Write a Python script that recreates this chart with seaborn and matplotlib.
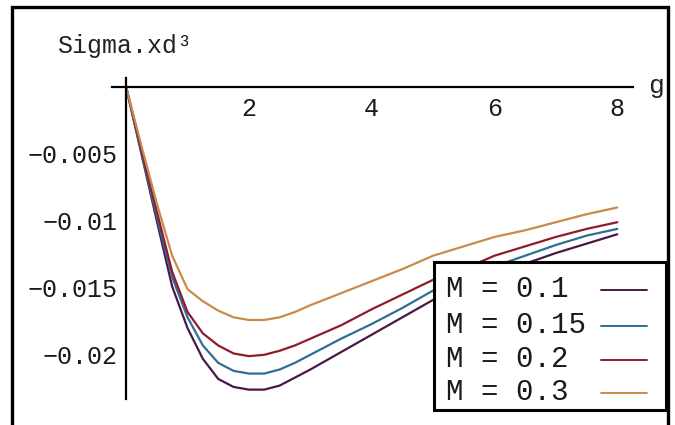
import numpy as np
import pandas as pd
import matplotlib
matplotlib.use("Agg")
import matplotlib.pyplot as plt
from matplotlib.patches import Rectangle
from matplotlib.lines import Line2D
from matplotlib.ticker import MultipleLocator, FixedLocator
import seaborn as sns

# Sampled curve values: Sigma.xd^3 against g for four values of M
g = [0, 0.25, 0.5, 0.75, 1, 1.25, 1.5, 1.75, 2, 2.25, 2.5, 2.75, 3,
     3.5, 4, 4.5, 5, 5.5, 6, 6.5, 7, 7.5, 8]
sigma_m010 = [0, -0.0050, -0.0100, -0.0149, -0.0180, -0.0203, -0.0218, -0.0224, -0.0226,
              -0.0226, -0.0223, -0.0217, -0.0211, -0.0198, -0.0185, -0.0172, -0.0159,
              -0.0150, -0.0141, -0.0132, -0.0124, -0.0117, -0.0110]
sigma_m015 = [0, -0.0049, -0.0097, -0.0142, -0.0172, -0.0193, -0.0206, -0.0212, -0.0214,
              -0.0214, -0.0211, -0.0206, -0.0200, -0.0188, -0.0177, -0.0165, -0.0152,
              -0.0143, -0.0134, -0.0126, -0.0118, -0.0111, -0.0106]
sigma_m020 = [0, -0.0047, -0.0093, -0.0138, -0.0168, -0.0184, -0.0193, -0.0199, -0.0201,
              -0.0200, -0.0197, -0.0193, -0.0188, -0.0178, -0.0166, -0.0155, -0.0144,
              -0.0136, -0.0126, -0.0119, -0.0112, -0.0106, -0.0101]
sigma_m030 = [0, -0.0044, -0.0087, -0.0126, -0.0151, -0.0160, -0.0167, -0.0172, -0.0174,
              -0.0174, -0.0172, -0.0168, -0.0163, -0.0154, -0.0145, -0.0136, -0.0126,
              -0.0119, -0.0112, -0.0107, -0.0101, -0.0095, -0.0090]

labels = ["M = 0.1", "M = 0.15", "M = 0.2", "M = 0.3"]
colors = ["#4a1846", "#2e6f96", "#8e1c2e", "#c98a4c"]

x_ticks = [2, 4, 6, 8]
y_ticks = [-0.005, -0.01, -0.015, -0.02]
y_tick_labels = ["\u22120.005", "\u22120.01", "\u22120.015", "\u22120.02"]

df = pd.concat(
    [pd.DataFrame({"g": g, "sigma": s, "M": lab})
     for s, lab in zip([sigma_m010, sigma_m015, sigma_m020, sigma_m030], labels)],
    ignore_index=True,
)

sns.set_style("white")
mono = ["Liberation Mono", "DejaVu Sans Mono"]
plt.rcParams["font.family"] = mono

W, H = 675, 425
fig = plt.figure(figsize=(W / 100, H / 100), dpi=100)


def fx(px):
    return px / W


def fy(py):
    return 1 - py / H


# axes box in pixel units (left, top, right, bottom)
L, T, R, B = 112, 77.6, 632.6, 399
ax = fig.add_axes([fx(L), fy(B), (R - L) / W, (B - T) / H])

sns.lineplot(data=df, x="g", y="sigma", hue="M", hue_order=labels,
             palette=colors, linewidth=1.6, ax=ax, legend=False)

ax.set_xlim(-0.23, 8.25)
ax.set_ylim(-0.0233, 0.0007)
ax.set_xlabel("")
ax.set_ylabel("")

# axes crossing at the origin
for side in ["top", "right"]:
    ax.spines[side].set_visible(False)
ax.spines["left"].set_position(("data", 0))
ax.spines["bottom"].set_position(("data", 0))
for side in ["left", "bottom"]:
    ax.spines[side].set_linewidth(1.6)
    ax.spines[side].set_color("black")

ax.xaxis.set_major_locator(FixedLocator(x_ticks))
ax.xaxis.set_minor_locator(MultipleLocator(0.5))
ax.set_yticks(y_ticks)
ax.set_yticklabels(y_tick_labels)
ax.tick_params(axis="x", which="both", direction="in", length=3.5, width=1.2,
               labelsize=18, pad=7, colors="black")
ax.tick_params(axis="y", which="both", direction="in", length=3.5, width=1.2,
               labelsize=18, pad=6, colors="black")
for lab in ax.get_xticklabels() + ax.get_yticklabels():
    lab.set_color("#1a1a1a")
ax.patch.set_alpha(0)

# legend box: label text on the left, sample line on the right
fig.add_artist(Rectangle((fx(434), fy(410)), (666 - 434) / W, (410 - 262) / H,
                         transform=fig.transFigure, facecolor="white",
                         edgecolor="black", linewidth=2.2, zorder=5))
row_y = [289, 325, 359, 392]
for lab, col, ry in zip(labels, colors, row_y):
    fig.text(fx(446), fy(ry), lab, fontsize=21, ha="left", va="center",
             color="#1a1a1a", zorder=6)
    fig.add_artist(Line2D([fx(601), fx(647)], [fy(ry + 1), fy(ry + 1)],
                          transform=fig.transFigure, color=col,
                          linewidth=1.4, zorder=6))

# axis captions
fig.text(fx(57), fy(46), "Sigma.xd\u00b3", fontsize=18, va="center",
         ha="left", color="#222222")
fig.text(fx(648), fy(86), "g", fontsize=19, va="center", ha="left",
         color="#222222")

# outer frame
fig.add_artist(Rectangle((fx(12), -0.05), (668 - 12) / W, 1.05 - 7 / H,
                         transform=fig.transFigure, fill=False,
                         linewidth=2.4, edgecolor="black", zorder=7))

fig.savefig("out.png", dpi=100)
